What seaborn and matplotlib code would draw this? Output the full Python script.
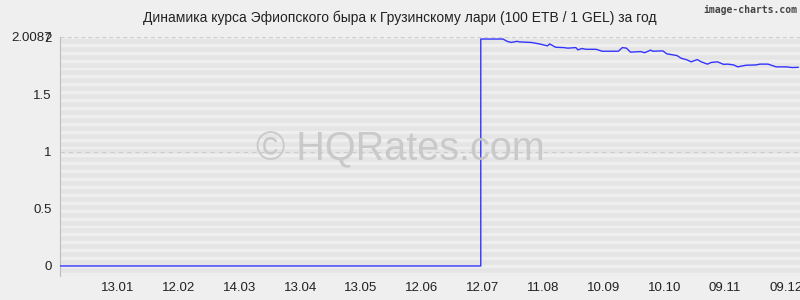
import matplotlib
matplotlib.use("Agg")
import matplotlib.pyplot as plt
import seaborn as sns
import pandas as pd
import numpy as np

title = "Динамика курса Эфиопского быра к Грузинскому лари (100 ETB / 1 GEL) за год"
tick_labels = ["13.01", "12.02", "14.03", "13.04", "13.05", "12.06",
               "12.07", "11.08", "10.09", "10.10", "09.11", "09.12"]
ytick_vals = [0, 0.5, 1, 1.5, 2, 2.0087]
ytick_labels = ["0", "0.5", "1", "1.5", "2", "2.0087"]

zero_days = [0, 208]
zero_vals = [0, 0]
rate_days = [208, 209, 219, 221, 223, 226, 227, 233, 237, 241, 242, 245, 249, 251,
             255, 256, 258, 260, 265, 268, 276, 278, 280, 282, 287, 289, 292, 293,
             298, 300, 305, 307, 310, 312, 315, 317, 320, 322, 325, 328, 330, 333,
             335, 339, 344, 346, 350, 354, 359, 362, 365]
rate_vals = [1.99, 1.99, 1.99, 1.97, 1.96, 1.97, 1.965, 1.96, 1.947, 1.93, 1.947,
             1.918, 1.915, 1.91, 1.915, 1.895, 1.907, 1.90, 1.90, 1.883, 1.883,
             1.915, 1.91, 1.875, 1.88, 1.87, 1.893, 1.883, 1.886, 1.86, 1.845,
             1.822, 1.807, 1.79, 1.81, 1.79, 1.77, 1.785, 1.79, 1.768, 1.77, 1.763,
             1.746, 1.76, 1.763, 1.77, 1.77, 1.746, 1.746, 1.74, 1.742]

ymax = 2.0087
first_tick_day = 28.7
tick_step_days = 30

df = pd.DataFrame({"day": zero_days + rate_days, "rate": zero_vals + rate_vals})

sns.set_theme(style="white")
plt.rcParams["font.family"] = ["Liberation Sans", "DejaVu Sans"]
plt.rcParams["lines.scale_dashes"] = False

bg = "#efefef"
fig = plt.figure(figsize=(8, 3), dpi=100, facecolor=bg)
ax = fig.add_axes([0.075, 0.08, 0.925, 0.797])
ax.set_facecolor(bg)

ylo = -0.088
ax.set_ylim(ylo, ymax)
ax.set_xlim(0, 365.8)

# grid rows of short vertical dashes
nrows = 29
step = ymax / nrows
k = 0
while True:
    c = ymax - step * (k + 0.5)
    if c < ylo:
        break
    ax.axhline(c, color="#dcdcdc", lw=3.4, linestyle=(0, (0.72, 0.72)), zorder=0)
    k += 1
ax.axhline(ymax, color="#cfcfcf", lw=1, linestyle=(0, (3, 2)), zorder=0)
ax.axhline(1.0, color="#cccccc", lw=0.8, linestyle=(0, (3, 3)), zorder=0)
ax.axhline(ylo + 0.004, color="#d0d0d0", lw=1, linestyle=(0, (1, 2)), zorder=0)

sns.lineplot(data=df, x="day", y="rate", estimator=None, sort=False,
             color="#3434ff", lw=1.0, ax=ax, zorder=3)

# watermark (centred on the figure)
fig.text(0.5, 0.467, "© HQRates.com", fontsize=28.5,
         color="#c6c6c6", alpha=0.9, ha="center", va="baseline", zorder=2)

ax.set_xticks([first_tick_day + tick_step_days * i for i in range(len(tick_labels))])
ax.set_xticklabels(tick_labels, fontsize=9.5, color="#222222")
ax.tick_params(axis="x", length=0, pad=4)
ax.set_yticks(ytick_vals)
ax.set_yticklabels(ytick_labels, fontsize=9.5, color="#222222")
ax.tick_params(axis="y", length=4, width=0.8, color="#888888", pad=2, direction="out")
ax.set_xlabel("")
ax.set_ylabel("")
for s in ["top", "right", "bottom"]:
    ax.spines[s].set_visible(False)
ax.spines["left"].set_color("#bdbdbd")
ax.spines["left"].set_linewidth(0.8)

fig.text(0.5, 0.94, title, ha="center", va="center", fontsize=10, color="#222222")
fig.text(0.997, 0.985, "image-charts.com", ha="right", va="top", fontsize=7,
         color="#444444", family=["DejaVu Sans Mono"], fontweight="bold")

fig.savefig("out.png", dpi=100, facecolor=bg)
